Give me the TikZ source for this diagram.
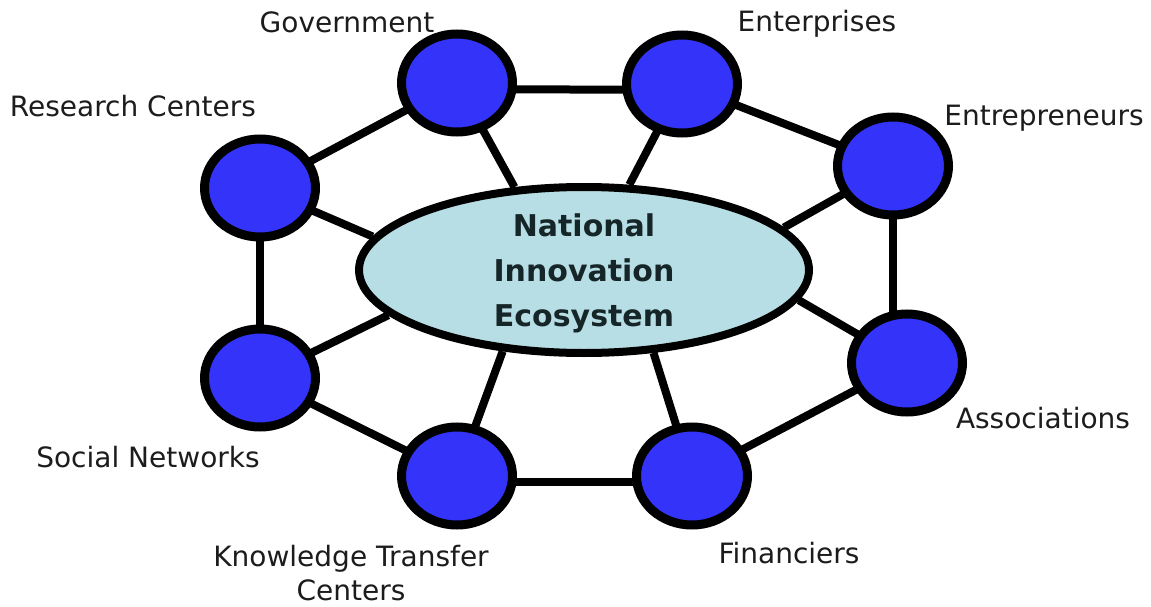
\documentclass[tikz,border=0pt]{standalone}
\usepackage{fontspec}
\setmainfont{DejaVu Sans}
\usetikzlibrary{shapes.geometric,backgrounds}
\definecolor{nodeblue}{RGB}{51,51,250}
\definecolor{corefill}{RGB}{182,222,228}
\definecolor{txt}{RGB}{28,28,28}
\definecolor{coretxt}{RGB}{22,38,40}
\begin{document}
\begin{tikzpicture}[x=1pt,y=-1pt,
  actor/.style={ellipse, draw=black, line width=9pt, fill=nodeblue,
    minimum width=111pt, minimum height=98pt, inner sep=0pt},
  core/.style={ellipse, draw=black, line width=8pt, fill=corefill,
    minimum width=450pt, minimum height=166pt, inner sep=0pt,
    font=\bfseries\fontsize{30}{45}\selectfont, text=coretxt,
    align=center, text depth=0pt},
  lbl/.style={font=\fontsize{28}{36}\selectfont, text=txt, align=center, inner sep=0pt},
  link/.style={line width=8pt, draw=black}]

\path[use as bounding box] (0,0) rectangle (1151,607);

% central node
\node[core] (nie) at (584,270) {National\\Innovation\\Ecosystem};

% actors
\node[actor] (gov)   at (457,83)  {};
\node[actor] (ent)   at (682,84)  {};
\node[actor] (entre) at (893,166) {};
\node[actor] (res)   at (260,188) {};
\node[actor] (soc)   at (260,378) {};
\node[actor] (know)  at (457,476) {};
\node[actor] (fin)   at (692,476) {};
\node[actor] (assoc) at (907,363) {};

% labels
\node[lbl, anchor=base] (lgov)   at (347,33)  {Government};
\node[lbl, anchor=base] (lent)   at (817,32)  {Enterprises};
\node[lbl, anchor=base] (lentre) at (1044,126) {Entrepreneurs};
\node[lbl, anchor=base] (lres)   at (133,117) {Research Centers};
\node[lbl, anchor=base] (lsoc)   at (148,467) {Social Networks};
\node[lbl, anchor=base] (lknow)  at (351,566) {Knowledge Transfer};
\node[lbl, anchor=base] (lknow2) at (351,600) {Centers};
\node[lbl, anchor=base] (lfin)   at (789,563) {Financiers};
\node[lbl, anchor=base] (lassoc) at (1043,428) {Associations};

\begin{scope}[on background layer]
  \fill[white] (0,0) rectangle (1151,607);
  % ring
  \draw[link] ([yshift=-6pt]gov.center) -- ([yshift=-6pt]ent.center);
  \draw[link] (ent.center) -- (entre.center);
  \draw[link] (entre.center) -- (entre.center |- assoc.center);
  \draw[link] (assoc.center) -- (fin.center);
  \draw[link] ([yshift=-6pt]fin.center) -- ([yshift=-6pt]know.center);
  \draw[link] (know.center) -- (soc.center);
  \draw[link] (soc.center) -- (res.center);
  \draw[link] (res.center) -- (gov.center);
  % spokes
  \draw[link] (gov.center)   -- (nie.130);
  \draw[link] (ent.center)   -- (nie.62);
  \draw[link] (entre.center) -- (nie.12);
  \draw[link] (res.center)   -- (nie.171);
  \draw[link] (soc.center)   -- (nie.193);
  \draw[link] (know.center)  -- (nie.225);
  \draw[link] (fin.center)   -- (nie.310);
  \draw[link] (assoc.center) -- (nie.352);
\end{scope}
\end{tikzpicture}
\end{document}
